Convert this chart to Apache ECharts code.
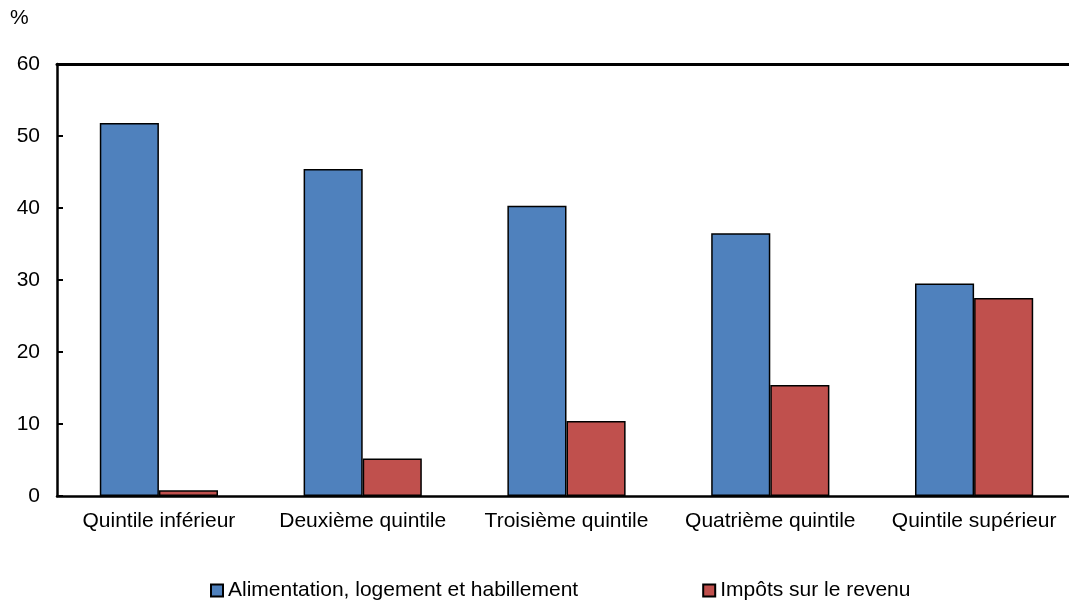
<!DOCTYPE html>
<html><head><meta charset="utf-8">
<script src="https://cdn.jsdelivr.net/npm/echarts@6/dist/echarts.min.js"></script>
<style>html,body{margin:0;padding:0;background:#fff}#c{width:1069px;height:603px}</style>
</head><body><div id="c"></div>
<script>
const categories = ['Quintile inférieur','Deuxième quintile','Troisième quintile','Quatrième quintile','Quintile supérieur'];
const seriesNames = ['Alimentation, logement et habillement','Impôts sur le revenu'];
const alimentation = [51.8, 45.4, 40.3, 36.5, 29.5];
const impots = [0.8, 5.2, 10.4, 15.4, 27.5];
const yTicks = [0, 10, 20, 30, 40, 50, 60];

const font = 'Liberation Sans, Arial, Helvetica, sans-serif';
const chart = echarts.init(document.getElementById('c'));
chart.setOption({
  animation: false,
  textStyle: {fontFamily: font},
  grid: {left: 57, width: 1019, top: 64, bottom: 107, containLabel: false, outerBoundsMode: 'none'},
  legend: {
    top: 575, left: 205, itemGap: 124, itemWidth: 12, itemHeight: 12, itemTextGap: 8,
    textStyle: {fontSize: 21, color: '#000', fontFamily: font},
    data: seriesNames.map(n => ({name: n, icon: 'rect'}))
  },
  xAxis: [{
    type: 'category', data: categories, position: 'bottom',
    axisLine: {lineStyle: {color: '#000', width: 2.5}},
    axisTick: {show: false},
    axisLabel: {color: '#000', fontSize: 21, margin: 15, interval: 0}
  }, {
    type: 'category', data: categories, position: 'top',
    axisLine: {show: true, lineStyle: {color: '#000', width: 3}},
    axisTick: {show: false}, axisLabel: {show: false}
  }],
  yAxis: {
    type: 'value', min: yTicks[0], max: yTicks[yTicks.length-1], interval: 10,
    name: '%', nameLocation: 'end', nameGap: 0,
    nameTextStyle: {color: '#000', fontSize: 21, align: 'left', padding: [0, 0, 35, -47]},
    axisLine: {show: true, lineStyle: {color: '#000', width: 2.5}},
    axisTick: {show: true, inside: true, length: 6, lineStyle: {color: '#000', width: 2}},
    axisLabel: {color: '#000', fontSize: 21, margin: 17},
    splitLine: {show: false}
  },
  series: [{
    name: seriesNames[0], type: 'bar', data: alimentation, barWidth: '29%', barGap: '0%',
    itemStyle: {color: '#4F81BD', borderColor: '#000', borderWidth: 1.5}
  }, {
    name: seriesNames[1], type: 'bar', data: impots, barWidth: '29%',
    itemStyle: {color: '#C0504D', borderColor: '#000', borderWidth: 1.5}
  }]
});
</script></body></html>
